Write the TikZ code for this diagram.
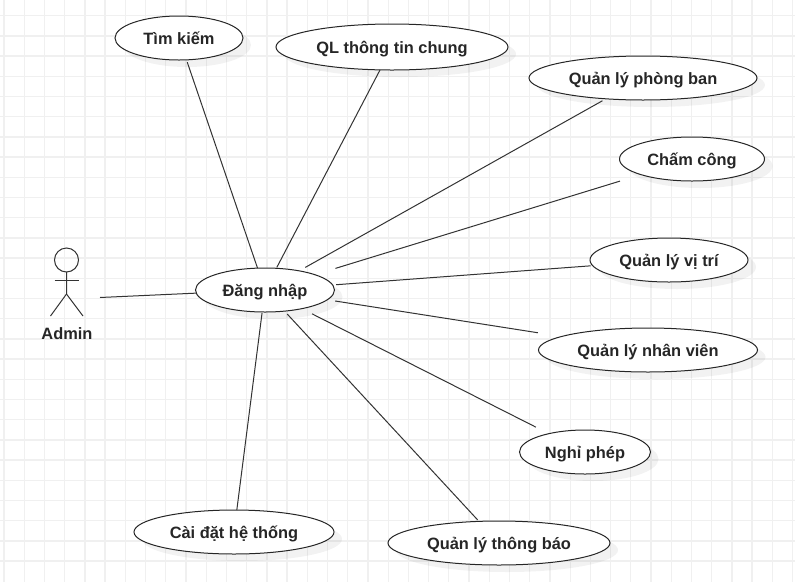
\documentclass[tikz,border=0pt]{standalone}
\usepackage{fontspec}
\setmainfont{Liberation Sans}
\usetikzlibrary{shapes.geometric,shadows}

\tikzset{
    usecase/.style={ellipse, draw=black!85, line width=1pt, fill=white, inner sep=0pt, outer sep=0pt,
        minimum height=44pt, font=\fontsize{16.4}{18}\selectfont\bfseries, text=black!85,
        text height=12.5pt, text depth=0pt,
        drop shadow={shadow xshift=8pt, shadow yshift=-7pt, fill=black, opacity=.05}},
    link/.style={draw=black!80, line width=1pt},
    gridline/.style={draw=black!6, line width=1.3pt}
}

\begin{document}
\begin{tikzpicture}[x=1pt,y=-1pt]
                \useasboundingbox [fill=white] (0,0) rectangle (795,582);
                \foreach \i in {0,...,39} \draw [gridline] ({4+20.22*\i},0) -- ({4+20.22*\i},582);
                \foreach \j in {0,...,27} \draw [gridline] (0,{15.7+20.2*\j}) -- (795,{15.7+20.2*\j});
                % use cases
                \node [usecase, minimum width=139pt] (dangnhap) at (265,290) {Đăng nhập};
                \node [usecase, minimum width=128pt] (timkiem) at (179,38) {Tìm kiếm};
                \node [usecase, minimum width=232pt, minimum height=46pt] (thongtin) at (392,47) {QL thông tin chung};
                \node [usecase, minimum width=228pt] (phongban) at (643,78) {Quản lý phòng ban};
                \node [usecase, minimum width=145pt] (chamcong) at (692,159) {Chấm công};
                \node [usecase, minimum width=158pt] (vitri) at (669,260) {Quản lý vị trí};
                \node [usecase, minimum width=219pt] (nhanvien) at (648,350) {Quản lý nhân viên};
                \node [usecase, minimum width=131pt] (nghiphep) at (585,452) {Nghỉ phép};
                \node [usecase, minimum width=222pt] (thongbao) at (499,543) {Quản lý thông báo};
                \node [usecase, minimum width=200pt] (caidat) at (234,532) {Cài đặt hệ thống};
                % actor
                \draw [link] (66.5,260) circle [radius=12];
                \draw [link] (66.5,272) -- (66.5,294) -- (50.5,316);
                \draw [link] (66.5,294) -- (83,316);
                \draw [link] (54.5,280) -- (78.5,280);
                \node [font=\fontsize{16.4}{18}\selectfont\bfseries, text=black!85] (admin) at (67,333.5) {Admin};
                \coordinate (adminhand) at (100,297.5);
                % connectors
                \draw [link] (dangnhap) -- (adminhand);
                \draw [link, shorten >=2.5pt] (dangnhap) -- (timkiem);
                \draw [link, shorten <=1pt] (dangnhap) -- (thongtin);
                \draw [link, shorten <=7pt, shorten >=4pt] (dangnhap) -- (phongban);
                \draw [link, shorten <=21.5pt, shorten >=22pt] (dangnhap) -- (chamcong);
                \draw [link, shorten <=3.5pt, shorten >=2pt] (dangnhap) -- (vitri);
                \draw [link, shorten <=8pt, shorten >=24pt] (dangnhap) -- (nhanvien);
                \draw [link, shorten <=11.5pt, shorten >=14.5pt] (dangnhap) -- (nghiphep);
                \draw [link, shorten <=4pt, shorten >=2pt] (dangnhap) -- (thongbao);
                \draw [link, shorten <=1pt] (dangnhap) -- (caidat);
\end{tikzpicture}
\end{document}
